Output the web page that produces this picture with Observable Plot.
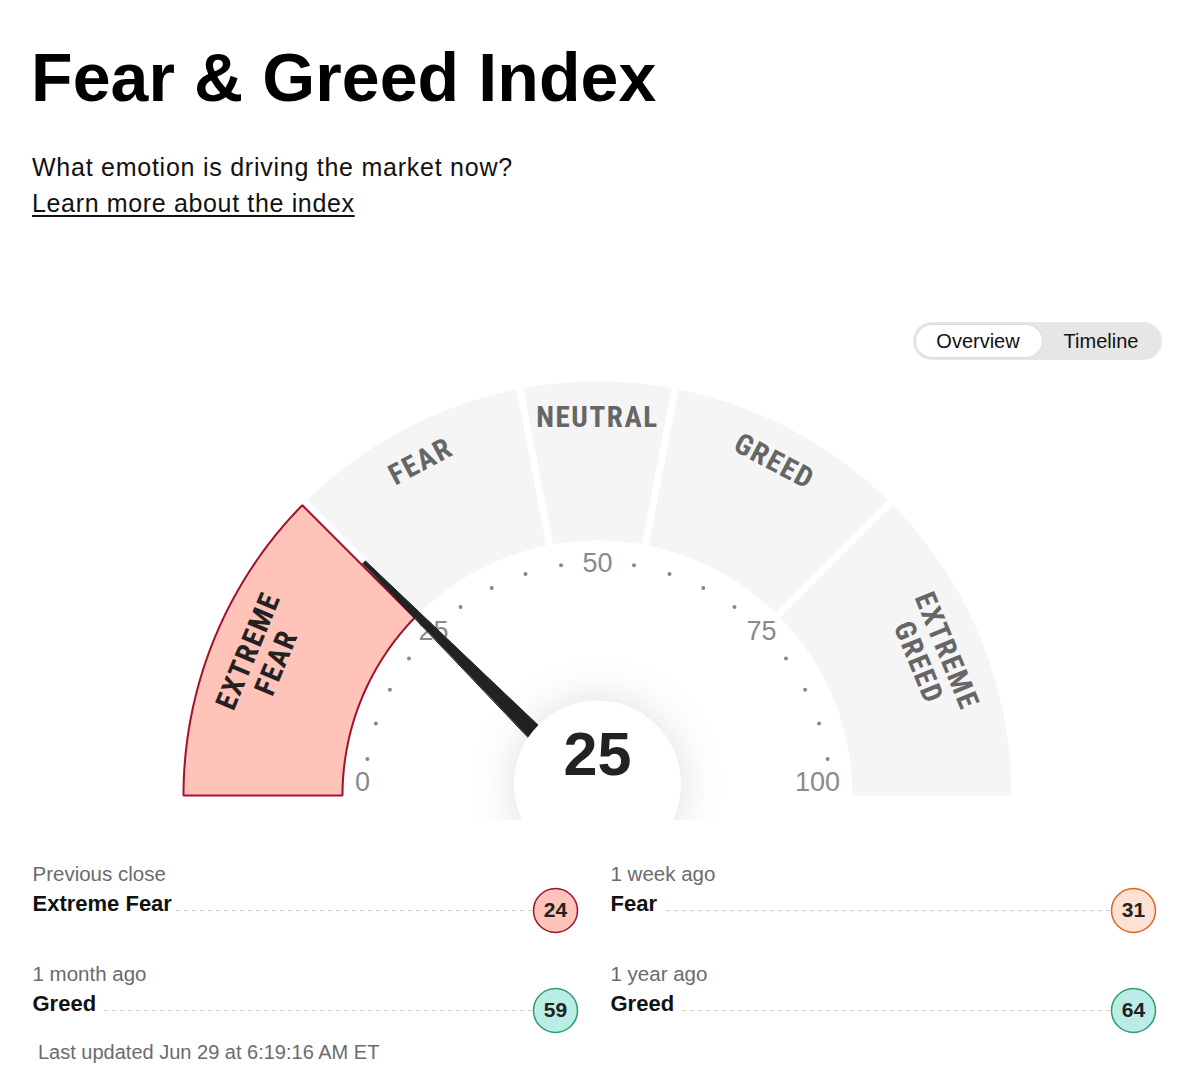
<!DOCTYPE html>
<html>
<head>
<meta charset="utf-8">
<script src="https://cdn.jsdelivr.net/npm/d3@7"></script>
<script src="https://cdn.jsdelivr.net/npm/@observablehq/plot@0.6"></script>
<style>
  html, body { margin: 0; padding: 0; background: #fff; }
  body { width: 1200px; height: 1088px; position: relative; overflow: hidden;
         font-family: "Liberation Sans", Arial, Helvetica, sans-serif; color: #000; }
  .abs { position: absolute; }
  #title { left: 31px; top: 43px; font-size: 68px; line-height: 68px; font-weight: 700; letter-spacing: 0.1px; white-space: nowrap; }
  #subtitle { left: 32px; top: 155px; font-size: 25px; line-height: 25px; letter-spacing: 0.75px; white-space: nowrap; color: #111; }
  #learn { left: 32px; top: 191px; font-size: 25px; line-height: 25px; letter-spacing: 0.65px; white-space: nowrap; color: #111; text-decoration: underline; text-underline-offset: 3px; text-decoration-thickness: 1.5px; }
  #toggle { left: 913px; top: 322px; width: 249px; height: 38px; border-radius: 19px; background: #e6e6e6; }
  #toggle .pill { position: absolute; left: 3px; top: 3px; width: 126px; height: 32px; border-radius: 16px; background: #fff; box-shadow: 0 0 0 1px #dcdcdc; }
  #toggle span { position: absolute; top: 8px; font-size: 20px; line-height: 22px; color: #111; transform: translateX(-50%); white-space: nowrap; }
  #gauge { left: 0; top: 370px; }
  #history { left: 0; top: 850px; }
  #updated { left: 38px; top: 1040px; font-size: 20px; line-height: 24px; color: #6b6b6b; white-space: nowrap; }
  .hub circle { filter: drop-shadow(0 0 22px rgba(0,0,0,0.13)); }
  .seglabel text { letter-spacing: 1.6px; }
  svg { overflow: hidden; }
</style>
</head>
<body>
<div id="title" class="abs">Fear &amp; Greed Index</div>
<div id="subtitle" class="abs">What emotion is driving the market now?</div>
<div id="learn" class="abs">Learn more about the index</div>
<div id="toggle" class="abs"><div class="pill"></div><span style="left:65px">Overview</span><span style="left:188px">Timeline</span></div>
<div id="gauge" class="abs"></div>
<div id="history" class="abs"></div>
<div id="updated" class="abs"></div>
<script>
// ---------------- data ----------------
const currentValue = 25;
const currentRating = "extreme fear";

const segNames  = ["extreme fear", "fear", "neutral", "greed", "extreme greed"];
const segLabels = ["EXTREME\nFEAR", "FEAR", "NEUTRAL", "GREED", "EXTREME\nGREED"];
const segStart  = [0, 25, 44, 56, 75];
const segEnd    = [25, 44, 56, 75, 100];

const tickLabelValues = [0, 25, 50, 75, 100];
const tickDotValues = [5, 10, 15, 20, 30, 35, 40, 45, 55, 60, 65, 70, 80, 85, 90, 95];

const historyLabels  = ["Previous close", "1 week ago", "1 month ago", "1 year ago"];
const historyRatings = ["Extreme Fear", "Fear", "Greed", "Greed"];
const historyValues  = [24, 31, 59, 64];
const historyColumn  = ["left", "right", "left", "right"];
const historyRow     = [0, 0, 1, 1];

const lastUpdated = "Last updated Jun 29 at 6:19:16 AM ET";

// ---------------- styling ----------------
const ratingFill   = {"extreme fear": "#ffc3b9", "fear": "#ffe0d5", "neutral": "#e9e9e9", "greed": "#b9ede6", "extreme greed": "#9fe3d6"};
const ratingStroke = {"extreme fear": "#a3102b", "fear": "#e0661c", "neutral": "#999999", "greed": "#2d9f6b", "extreme greed": "#1e8a58"};
const SEG_FILL = "#f5f5f5";
const LABEL_FONT = "'Liberation Sans Narrow', 'Roboto Condensed', 'DejaVu Sans Condensed', 'Liberation Sans', sans-serif";

// gauge geometry (radius units: outer radius = 1)
const PX = 414;
const R_OUT = 1, R_IN = 255 / PX, R_DOT = 233 / PX, R_TICK = 232 / PX;
const R_END0 = 235 / PX, R_END100 = 220 / PX;
const R_LABEL = 390 / PX, R_NEEDLE = 330 / PX, R_NEEDLE_BASE = 80 / PX;
const GAP = 3.5 / PX;

const ang = v => v / 100 * Math.PI;
const gx = (v, r) => -Math.cos(ang(v)) * r;
const gy = (v, r) => Math.sin(ang(v)) * r;

function sectorPoints(i) {
  const a0 = ang(segStart[i]), a1 = ang(segEnd[i]);
  const first = segStart[i] === 0, last = segEnd[i] === 100;
  const o0 = first ? a0 : a0 + Math.asin(GAP / R_OUT);
  const o1 = last ? a1 : a1 - Math.asin(GAP / R_OUT);
  const i0 = first ? a0 : a0 + Math.asin(GAP / R_IN);
  const i1 = last ? a1 : a1 - Math.asin(GAP / R_IN);
  const pts = [];
  const N = 80;
  for (let k = 0; k <= N; k++) {
    const a = o0 + (o1 - o0) * k / N;
    pts.push({seg: segNames[i], x: -Math.cos(a) * R_OUT, y: Math.sin(a) * R_OUT});
  }
  for (let k = N; k >= 0; k--) {
    const a = i0 + (i1 - i0) * k / N;
    pts.push({seg: segNames[i], x: -Math.cos(a) * R_IN, y: Math.sin(a) * R_IN});
  }
  return pts;
}

const segIdx = segNames.map((_, i) => i);
const activeIdx = segIdx.filter(i => segNames[i] === currentRating);
const inactiveIdx = segIdx.filter(i => segNames[i] !== currentRating);
const inactivePts = inactiveIdx.flatMap(sectorPoints);
const activePts = activeIdx.flatMap(sectorPoints);

function needlePoints(v) {
  const a = ang(v);
  const ux = -Math.cos(a), uy = Math.sin(a);
  const nx = -uy, ny = ux;
  const tw = 1.8 / PX, bw = 8 / PX;
  return [
    {x: ux * R_NEEDLE + nx * tw, y: uy * R_NEEDLE + ny * tw},
    {x: ux * R_NEEDLE - nx * tw, y: uy * R_NEEDLE - ny * tw},
    {x: ux * R_NEEDLE_BASE - nx * bw, y: uy * R_NEEDLE_BASE - ny * bw},
    {x: ux * R_NEEDLE_BASE + nx * bw, y: uy * R_NEEDLE_BASE + ny * bw}
  ];
}

const segMid = i => (segStart[i] + segEnd[i]) / 2;

const gauge = Plot.plot({
  width: 1200,
  height: 450,
  margin: 0,
  x: {domain: [-1, 1], range: [183, 1011], axis: null},
  y: {domain: [0, 1], range: [425, 11], axis: null},
  color: {type: "identity"},
  style: {background: "transparent"},
  marks: [
    Plot.line(inactivePts, {x: "x", y: "y", z: "seg", fill: SEG_FILL, stroke: "none", curve: "linear-closed"}),
    Plot.line(activePts, {x: "x", y: "y", z: "seg", fill: ratingFill[currentRating], stroke: ratingStroke[currentRating], strokeWidth: 2, strokeLinejoin: "miter", curve: "linear-closed"}),
    Plot.text(segIdx, {
      x: i => gx(segMid(i), R_LABEL),
      y: i => gy(segMid(i), R_LABEL),
      text: i => segLabels[i],
      rotate: i => ang(segMid(i)) * 180 / Math.PI - 90,
      lineAnchor: "top",
      lineHeight: 1.05,
      fontSize: 29,
      fontWeight: 700,
      fontFamily: LABEL_FONT,
      fill: i => segNames[i] === currentRating ? "#222222" : "#666666",
      className: "seglabel"
    }),
    Plot.dot(tickDotValues, {x: v => gx(v, R_DOT), y: v => gy(v, R_DOT), r: 2, fill: "#888888", stroke: "none"}),
    Plot.text(tickLabelValues.filter(v => v > 0 && v < 100), {
      x: v => gx(v, R_TICK), y: v => gy(v, R_TICK), text: v => String(v),
      fontSize: 27, fill: "#8a8a8a", fontFamily: "'Liberation Sans', Arial, sans-serif"
    }),
    Plot.text(tickLabelValues.filter(v => v === 0 || v === 100), {
      x: v => gx(v, v === 0 ? R_END0 : R_END100), y: v => gy(v, R_END0), dy: -13, text: v => String(v),
      fontSize: 27, fill: "#8a8a8a", fontFamily: "'Liberation Sans', Arial, sans-serif"
    }),
    Plot.line(needlePoints(currentValue), {x: "x", y: "y", fill: "#222222", stroke: "#222222", strokeWidth: 1, curve: "linear-closed"}),
    Plot.dot([currentValue], {x: () => 0, y: () => 0, dy: -11.5, r: 83.5, fill: "white", stroke: "none", className: "hub"}),
    Plot.text([currentValue], {x: () => 0, y: () => 0, dy: -40, text: d => String(d), fontSize: 61, fontWeight: 700, fill: "#222222", fontFamily: "'Liberation Sans', Arial, sans-serif"})
  ]
});
document.getElementById("gauge").appendChild(gauge);

// ---------------- history rows ----------------
const hIdx = historyValues.map((_, i) => i);
const history = Plot.plot({
  width: 1200,
  height: 185,
  marginTop: 0, marginBottom: 0, marginLeft: 32, marginRight: 44,
  fx: {domain: ["left", "right"], paddingInner: 0.0554, paddingOuter: 0, axis: null, label: null},
  x: {domain: [0, 1], axis: null},
  y: {domain: [0, 1], range: [60, 160], axis: null},
  color: {type: "identity"},
  style: {background: "transparent"},
  marks: [
    Plot.ruleY(hIdx, {fx: i => historyColumn[i], y: i => historyRow[i], x1: () => 0, x2: () => 1, stroke: "#d0d0d0", strokeWidth: 1, strokeDasharray: "4,4"}),
    Plot.text(hIdx, {fx: i => historyColumn[i], x: () => 0, y: i => historyRow[i], dy: -7, text: i => historyRatings[i],
      textAnchor: "start", fontSize: 22, fontWeight: 700, fill: "#111111", stroke: "white", strokeWidth: 16, paintOrder: "stroke",
      fontFamily: "'Liberation Sans', Arial, sans-serif"}),
    Plot.text(hIdx, {fx: i => historyColumn[i], x: () => 0, y: i => historyRow[i], dy: -36.5, text: i => historyLabels[i],
      textAnchor: "start", fontSize: 20.5, fill: "#6b6b6b", fontFamily: "'Liberation Sans', Arial, sans-serif"}),
    Plot.dot(hIdx, {fx: i => historyColumn[i], x: () => 1, y: i => historyRow[i], dx: -23, r: 22,
      fill: i => ratingFill[historyRatings[i].toLowerCase()], stroke: i => ratingStroke[historyRatings[i].toLowerCase()], strokeWidth: 1.5}),
    Plot.text(hIdx, {fx: i => historyColumn[i], x: () => 1, y: i => historyRow[i], dx: -23, text: i => String(historyValues[i]),
      fontSize: 21, fontWeight: 700, fill: "#222222", fontFamily: "'Liberation Sans', Arial, sans-serif"})
  ]
});
document.getElementById("history").appendChild(history);
document.getElementById("updated").textContent = lastUpdated;
</script>
</body>
</html>
